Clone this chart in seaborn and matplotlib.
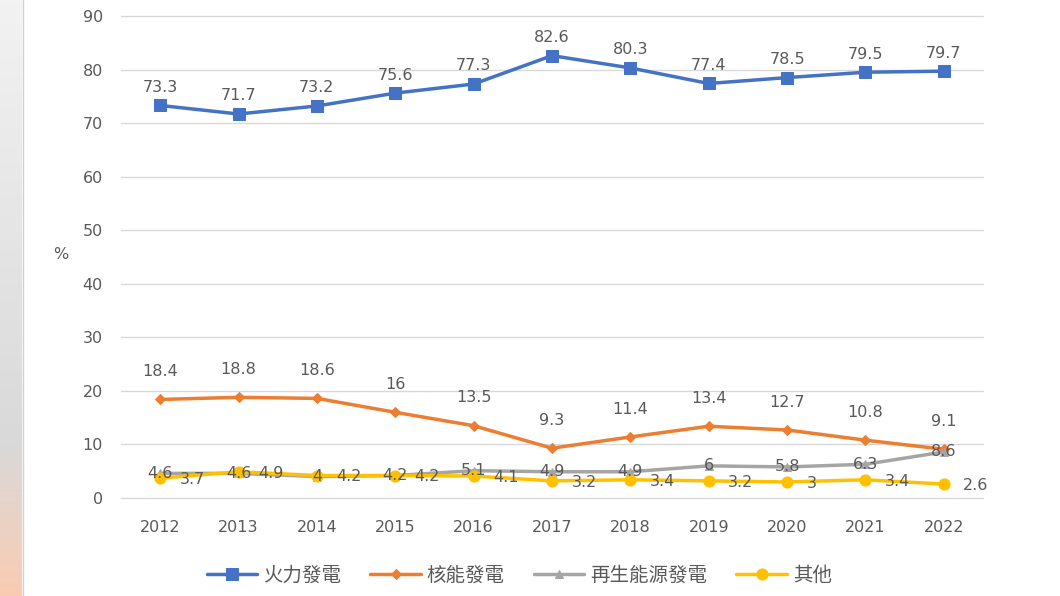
import numpy as np
import pandas as pd
import matplotlib.pyplot as plt
import seaborn as sns

years = [2012, 2013, 2014, 2015, 2016, 2017, 2018, 2019, 2020, 2021, 2022]
thermal = [73.3, 71.7, 73.2, 75.6, 77.3, 82.6, 80.3, 77.4, 78.5, 79.5, 79.7]
nuclear = [18.4, 18.8, 18.6, 16, 13.5, 9.3, 11.4, 13.4, 12.7, 10.8, 9.1]
renewable = [4.6, 4.6, 4, 4.2, 5.1, 4.9, 4.9, 6, 5.8, 6.3, 8.6]
other = [3.7, 4.9, 4.2, 4.2, 4.1, 3.2, 3.4, 3.2, 3, 3.4, 2.6]
names = ['火力發電', '核能發電', '再生能源發電', '其他']

sns.set_theme(style='white')
plt.rcParams['font.family'] = ['DejaVu Sans', 'Noto Sans CJK TC']

df = pd.DataFrame({'year': years, names[0]: thermal, names[1]: nuclear,
                   names[2]: renewable, names[3]: other})

fig = plt.figure(figsize=(10.6, 5.96), dpi=100)
ax = fig.add_axes([121 / 1060, 1 - 498 / 596, 862 / 1060, 482 / 596])

# blurred strip at the left edge of the screenshot
sax = fig.add_axes([0, 0, 22 / 1060, 1])
top = np.array([0.95, 0.95, 0.95])
mid = np.array([0.85, 0.85, 0.85])
bot = np.array([0.98, 0.80, 0.70])
grad = np.zeros((200, 1, 3))
for i in range(200):
    t = i / 199
    if t < 0.75:
        c = top + (mid - top) * (t / 0.75)
    else:
        c = mid + (bot - mid) * ((t - 0.75) / 0.25)
    grad[i, 0] = c
sax.imshow(grad, aspect='auto', extent=[0, 1, 0, 1], origin='upper')
sax.set_axis_off()
fig.add_artist(plt.Line2D([23 / 1060, 23 / 1060], [0, 1], color='#cfcfcf', lw=1))

styles = [
    (names[0], '#4472C4', 's', 8),
    (names[1], '#ED7D31', 'D', 5),
    (names[2], '#A5A5A5', '^', 6),
    (names[3], '#FFC000', 'o', 8),
]
for name, col, mk, ms in styles:
    sns.lineplot(data=df, x='year', y=name, ax=ax, color=col, marker=mk,
                 markersize=ms, markeredgecolor=col, linewidth=2.5, label=name)

txt = '#595959'
fs = 11.5
for x, v in zip(years, thermal):
    ax.annotate(f'{v:g}', (x, v), xytext=(0, 13), textcoords='offset points',
                ha='center', va='center', fontsize=fs, color=txt)
for x, v in zip(years, nuclear):
    ax.annotate(f'{v:g}', (x, v), xytext=(0, 20), textcoords='offset points',
                ha='center', va='center', fontsize=fs, color=txt)
for x, v in zip(years, renewable):
    ax.annotate(f'{v:g}', (x, v), xytext=(0, 0), textcoords='offset points',
                ha='center', va='center', fontsize=fs, color=txt)
for x, v in zip(years, other):
    ax.annotate(f'{v:g}', (x, v), xytext=(14, -1), textcoords='offset points',
                ha='left', va='center', fontsize=fs, color=txt)

ax.set_xlim(2011.5, 2022.5)
ax.set_ylim(0, 90)
ax.set_yticks(range(0, 91, 10))
ax.set_xticks(years)
ax.yaxis.grid(True, color='#d9d9d9', linewidth=1)
for gl in ax.get_ygridlines():
    gl.set_clip_on(False)
ax.set_axisbelow(True)
for s in ax.spines.values():
    s.set_visible(False)
ax.tick_params(axis='both', colors=txt, labelsize=fs, length=0)
ax.tick_params(axis='x', pad=16)
ax.tick_params(axis='y', pad=13)
ax.set_xlabel('')
ax.set_ylabel('%', rotation=0, color=txt, fontsize=fs, labelpad=10)
ax.yaxis.set_label_coords(-0.07, 0.49)

ax.legend(loc='upper center', bbox_to_anchor=(0.462, -0.105), ncol=4, frameon=False,
          fontsize=14, labelcolor=txt, handlelength=2.6, columnspacing=1.5,
          handletextpad=0.3)

fig.savefig('out.png', dpi=100)
